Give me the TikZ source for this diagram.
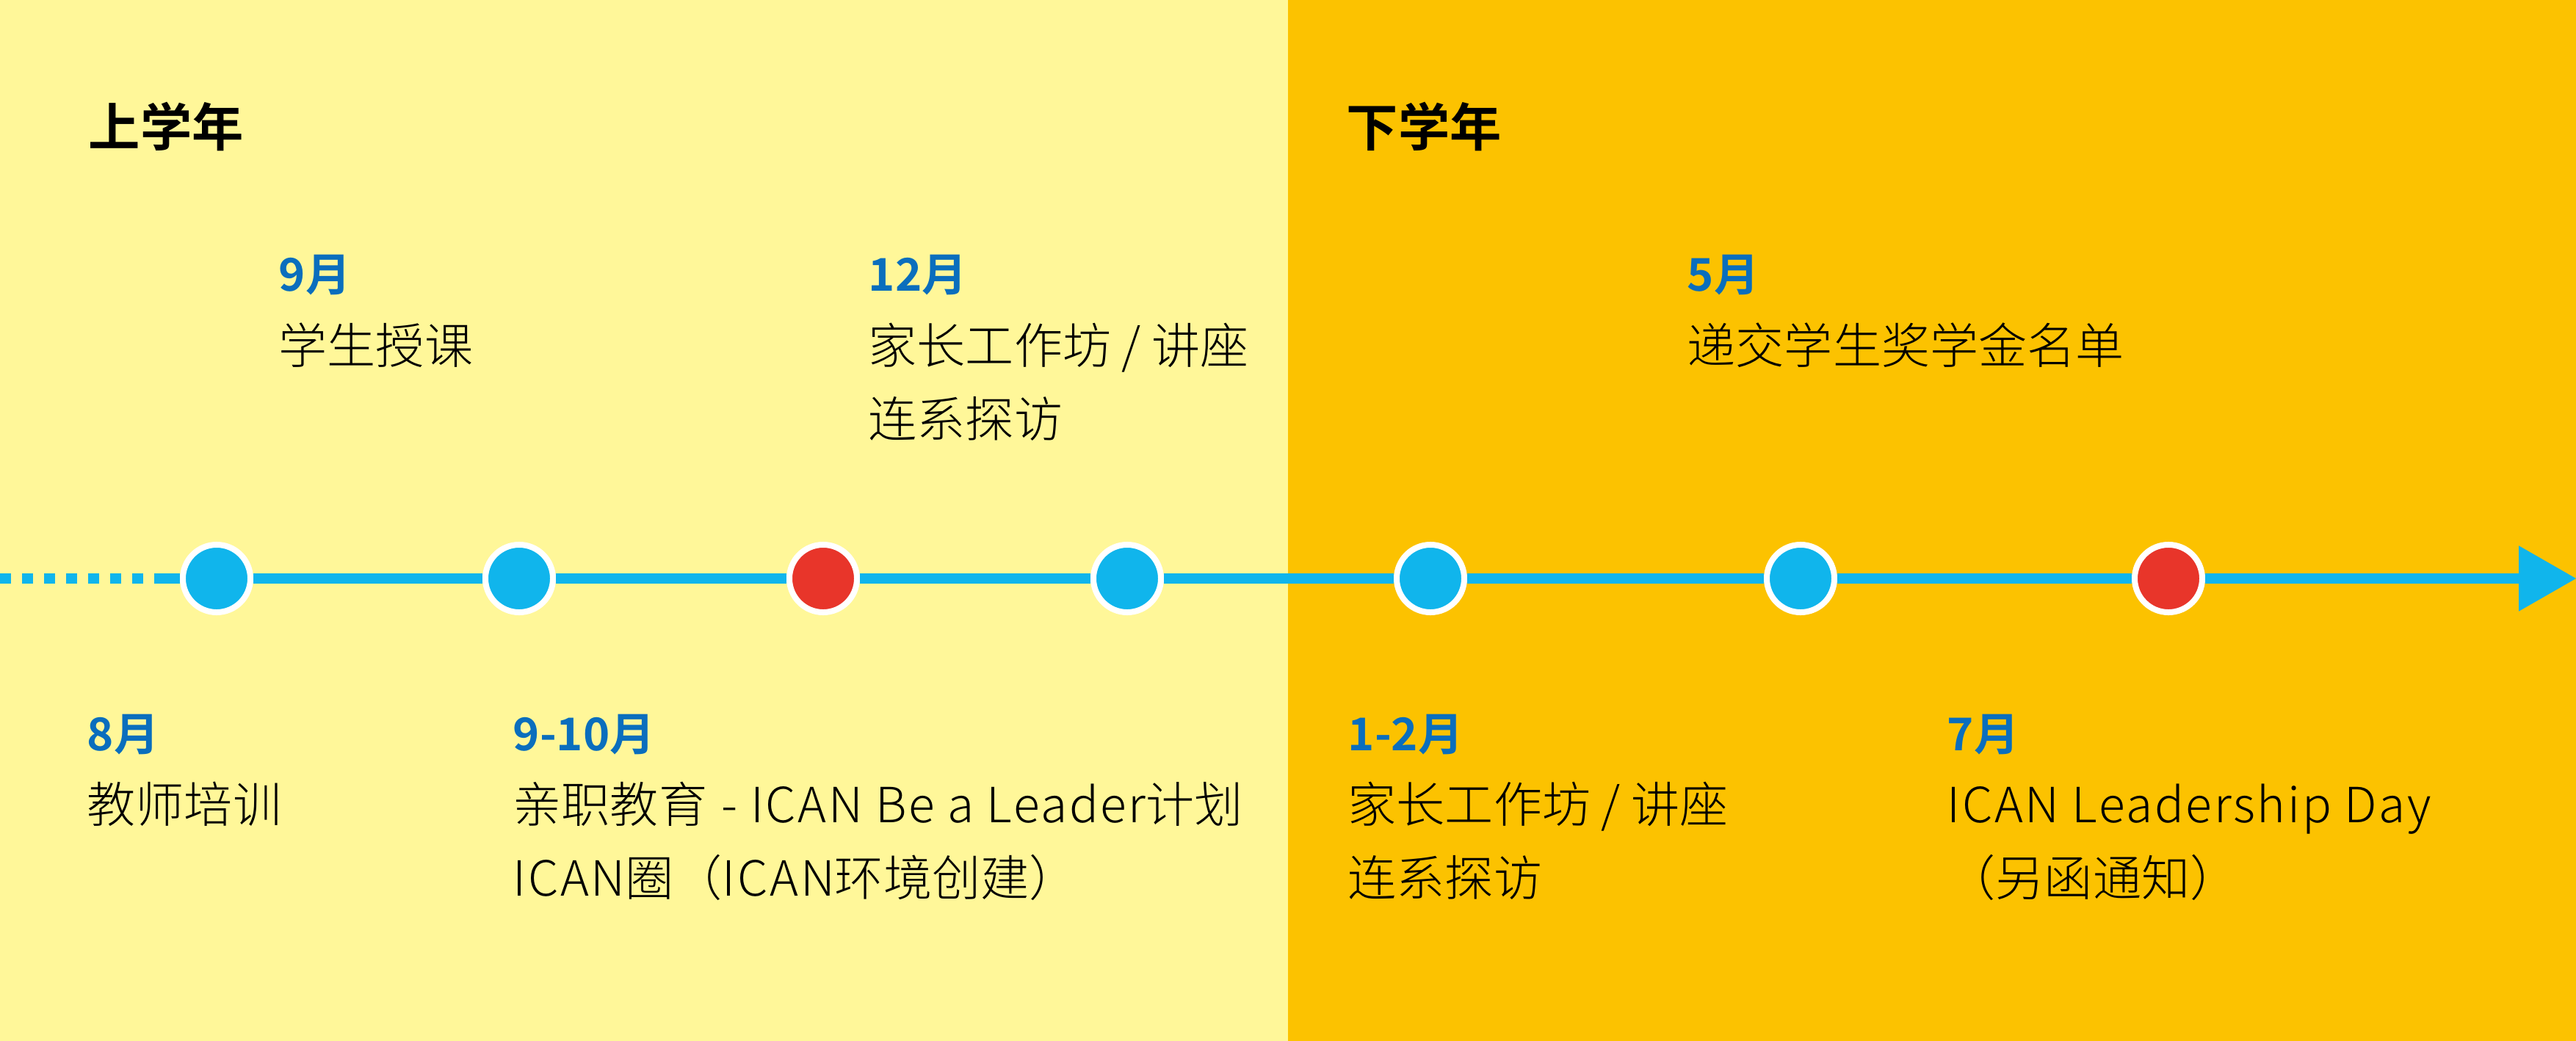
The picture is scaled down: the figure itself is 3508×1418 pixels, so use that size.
\documentclass[tikz,border=0pt]{standalone}
\usepackage{fontspec}
\setmainfont{Noto Sans CJK SC}[UprightFont={* Light}, BoldFont={* Bold}]
\newcommand\lat[1]{{\addfontfeatures{LetterSpace=4}#1}}
\definecolor{bgl}{HTML}{FFF799}
\definecolor{bgd}{HTML}{FCC200}
\definecolor{tl}{HTML}{10B5EC}
\definecolor{dotred}{HTML}{E8352A}
\definecolor{dateblue}{HTML}{0A6EBD}
\begin{document}
\begin{tikzpicture}[x=0.01cm,y=-0.01cm,
  titletext/.style={anchor=base west, inner sep=0pt, font=\fontsize{20pt}{24pt}\selectfont\bfseries},
  datetext/.style={anchor=base west, inner sep=0pt, text=dateblue, font=\fontsize{17.5pt}{21pt}\selectfont\bfseries},
  bodytext/.style={anchor=base west, inner sep=0pt, font=\fontsize{18.8pt}{22pt}\selectfont},
  dot/.style={circle, minimum size=0.92cm, inner sep=0pt, draw=white, line width=0.08cm},
  bluedot/.style={dot, fill=tl},
  reddot/.style={dot, fill=dotred},
  tline/.style={draw=tl, line width=0.145cm}]
\useasboundingbox (0,0) rectangle (3508,1418);
\fill[bgl] (0,0) rectangle (1754,1418);
\fill[bgd] (1754,0) rectangle (3508,1418);
% timeline
\coordinate (start) at (0,788);
\coordinate (dashend) at (211,788);
\coordinate (base) at (3430,788);
\coordinate (tip) at (3508,788);
\node[bluedot] (c1) at (295,788) {};
\node[bluedot] (c2) at (707,788) {};
\node[reddot]  (c3) at (1121,788) {};
\node[bluedot] (c4) at (1535,788) {};
\node[bluedot] (c5) at (1948,788) {};
\node[bluedot] (c6) at (2452,788) {};
\node[reddot]  (c7) at (2953,788) {};
\draw[tline, dash pattern=on 0.15cm off 0.15cm] (start) -- (dashend);
\draw[tline] (dashend) -- (c1);
\draw[tline] (c1) -- (c2);
\draw[tline] (c2) -- (c3);
\draw[tline] (c3) -- (c4);
\draw[tline] (c4) -- (c5);
\draw[tline] (c5) -- (c6);
\draw[tline] (c6) -- (c7);
\draw[tline] (c7) -- (base);
\fill[tl] (tip) -- ([yshift=0.447cm]base) -- ([yshift=-0.447cm]base) -- cycle;
% titles
\node[titletext] (t1) at (120,199) {上学年};
\node[titletext] (t2) at (1833,199) {下学年};
% upper labels
\node[datetext] (d9) at (379,396) {9月};
\node[bodytext] (b9) at (379,495) {学生授课};
\node[datetext] (d12) at (1182,396) {12月};
\node[bodytext] (b12a) at (1182,495) {家长工作坊 / 讲座};
\node[bodytext] (b12b) at (1182,595) {连系探访};
\node[datetext] (d5) at (2297,396) {5月};
\node[bodytext] (b5) at (2297,495) {递交学生奖学金名单};
% lower labels
\node[datetext] (d8) at (118,1022) {8月};
\node[bodytext] (b8) at (118,1120) {教师培训};
\node[datetext] (d910) at (698,1022) {9-10月};
\node[bodytext] (b910a) at (698,1120) {亲职教育\hspace{0.3em}\lat{- ICAN Be a Leader}计划};
\node[bodytext] (b910b) at (698,1220) {\lat{ICAN}圈（\lat{ICAN}环境创建）};
\node[datetext] (d12c) at (1835,1022) {1-2月};
\node[bodytext] (b12c) at (1835,1120) {家长工作坊 / 讲座};
\node[bodytext] (b12d) at (1835,1220) {连系探访};
\node[datetext] (d7) at (2651,1022) {7月};
\node[bodytext] (b7a) at (2651,1120) {\lat{ICAN Leadership Day}};
\node[bodytext] (b7b) at (2651,1220) {（另函通知）};
\end{tikzpicture}
\end{document}
